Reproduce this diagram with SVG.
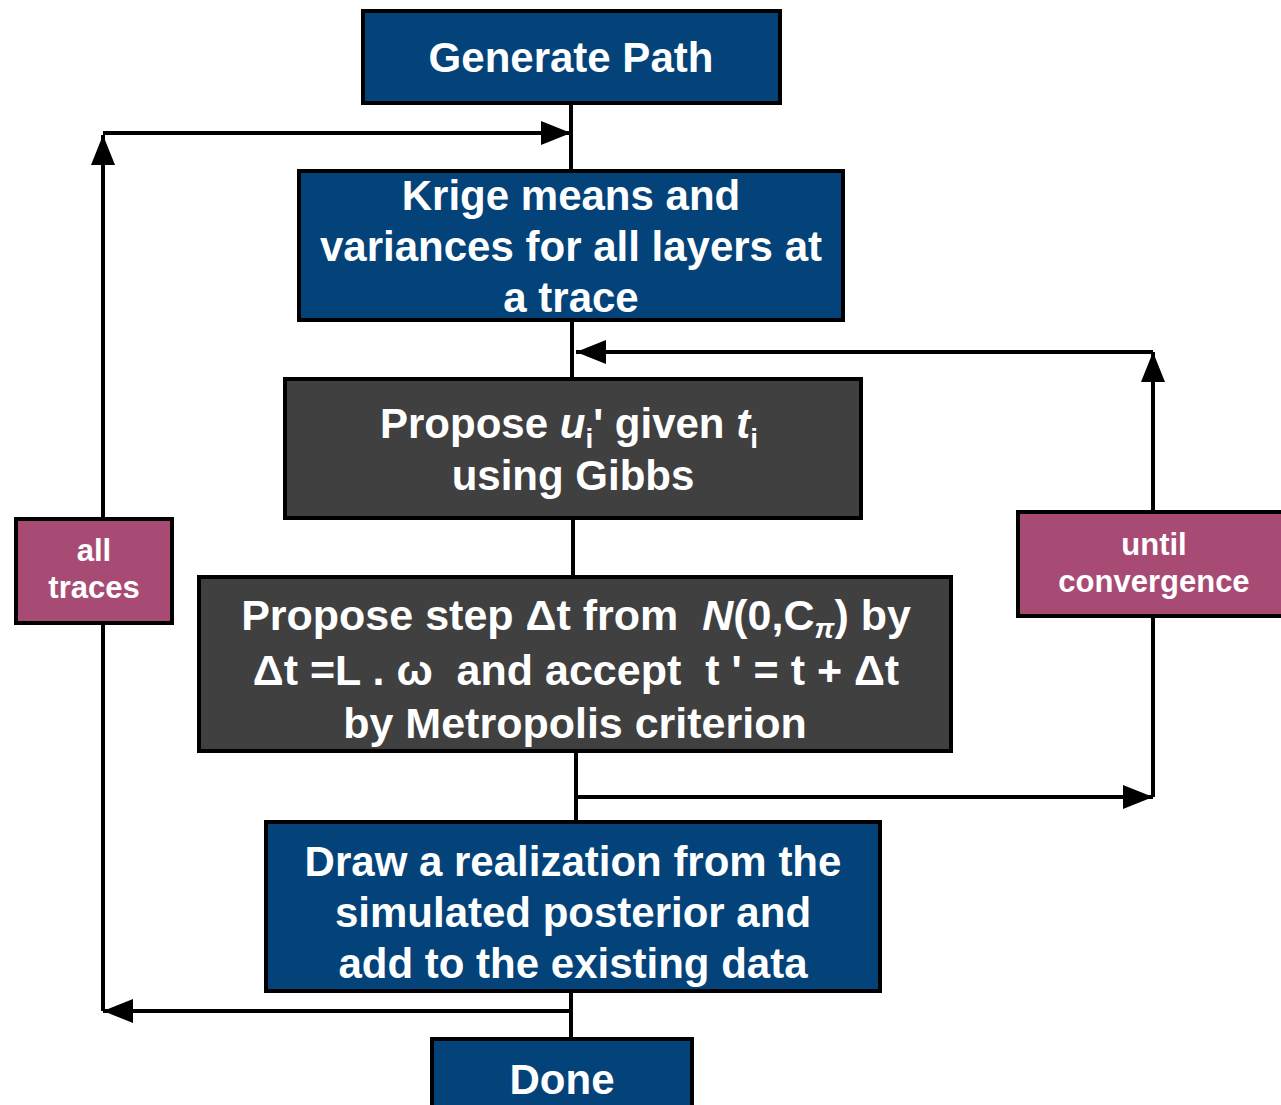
<svg xmlns="http://www.w3.org/2000/svg" width="1281" height="1105" viewBox="0 0 1281 1105">
<style>
.box{stroke:#000;stroke-width:4}
.blue{fill:#03437a}
.grey{fill:#404040}
.mag{fill:#a84b74}
text{font-family:"Liberation Sans",Arial,sans-serif;font-weight:bold;fill:#fff;text-anchor:middle}
.t{font-size:42px}
.t2{font-size:43px}
.s{font-size:31px}
.ln{stroke:#000;stroke-width:4;fill:none}
</style>
<defs>
<marker id="ah" viewBox="0 0 30 24" refX="30" refY="12" markerWidth="30" markerHeight="24" markerUnits="userSpaceOnUse" orient="auto">
<path d="M0,0 L30,12 L0,24 Z" fill="#000"/>
</marker>
</defs>
<rect width="1281" height="1105" fill="#fff"/>
<g id="connectors">
<line class="ln" x1="571" y1="103" x2="571" y2="170"/>
<line class="ln" x1="572" y1="321" x2="572" y2="378"/>
<line class="ln" x1="573" y1="519" x2="573" y2="576"/>
<line class="ln" x1="576" y1="752" x2="576" y2="821"/>
<line class="ln" x1="571" y1="992" x2="571" y2="1038"/>
<polyline class="ln" points="103,1011 103,624"/>
<polyline class="ln" points="103,518 103,135" marker-end="url(#ah)"/>
<polyline class="ln" points="103,133 571,133" marker-end="url(#ah)"/>
<polyline class="ln" points="569,1011 103,1011" marker-end="url(#ah)"/>
<polyline class="ln" points="576,797 1153,797" marker-end="url(#ah)"/>
<polyline class="ln" points="1153,797 1153,617"/>
<polyline class="ln" points="1153,511 1153,352" marker-end="url(#ah)"/>
<polyline class="ln" points="1153,352 576,352" marker-end="url(#ah)"/>
</g>
<g id="generate">
<rect class="box blue" x="363" y="11" width="417" height="92"/>
<text class="t" x="571" y="72">Generate Path</text>
</g>
<g id="krige">
<rect class="box blue" x="299" y="171" width="544" height="149"/>
<text class="t" x="571" y="210">Krige means and</text>
<text class="t" x="571" y="261">variances for all layers at</text>
<text class="t" x="571" y="312">a trace</text>
</g>
<g id="propose-u">
<rect class="box grey" x="285" y="379" width="576" height="139"/>
<text class="t" x="569" y="438">Propose <tspan font-style="italic">u</tspan><tspan font-size="28" dy="10">i</tspan><tspan dy="-10">' given </tspan><tspan font-style="italic">t</tspan><tspan font-size="28" dy="10">i</tspan></text>
<text class="t" x="573" y="490">using Gibbs</text>
</g>
<g id="propose-step">
<rect class="box grey" x="199" y="577" width="752" height="174"/>
<text class="t2" x="576" y="630" xml:space="preserve">Propose step Δt from  <tspan font-style="italic">N</tspan>(0,C<tspan font-size="28" font-style="italic" dy="8">π</tspan><tspan dy="-8">) by</tspan></text>
<text class="t2" x="576" y="685" xml:space="preserve">Δt =L . ω  and accept  t ' = t + Δt</text>
<text class="t2" x="575" y="738">by Metropolis criterion</text>
</g>
<g id="draw">
<rect class="box blue" x="266" y="822" width="614" height="169"/>
<text class="t" x="573" y="876">Draw a realization from the</text>
<text class="t" x="573" y="927">simulated posterior and</text>
<text class="t" x="573" y="978">add to the existing data</text>
</g>
<g id="done">
<rect class="box blue" x="432" y="1039" width="260" height="80"/>
<text class="t" x="562" y="1094">Done</text>
</g>
<g id="all-traces">
<rect class="box mag" x="16" y="519" width="156" height="104"/>
<text class="s" x="94" y="561">all</text>
<text class="s" x="94" y="598">traces</text>
</g>
<g id="until-convergence">
<rect class="box mag" x="1018" y="512" width="275" height="104"/>
<text class="s" x="1154" y="555">until</text>
<text class="s" x="1154" y="592">convergence</text>
</g>
</svg>
